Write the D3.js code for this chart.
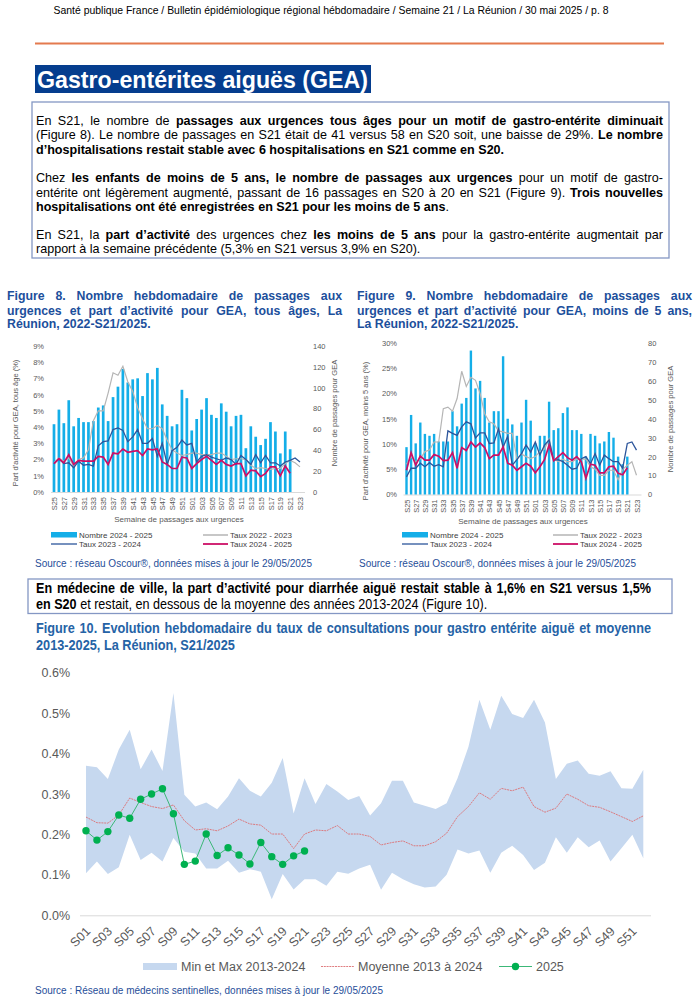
<!DOCTYPE html>
<html><head><meta charset="utf-8">
<script src="https://cdn.jsdelivr.net/npm/d3@7"></script>
<style>body{margin:0;background:#fff}svg{display:block}</style>
</head><body>
<svg id="page" width="699" height="1000"></svg>
<script>
// ---------------- DATA ----------------
const weeksED = ["S25","S26","S27","S28","S29","S30","S31","S32","S33","S34","S35","S36","S37","S38","S39","S40","S41","S42","S43","S44","S45","S46","S47","S48","S49","S50","S51","S52","S01","S02","S03","S04","S05","S06","S07","S08","S09","S10","S11","S12","S13","S14","S15","S16","S17","S18","S19","S20","S21","S22","S23"];
// Figure 8 (tous âges)
const f8Nombre2425 = [65,79,66,88,63,71,67,67,68,81,83,68,91,101,118,105,108,109,92,114,108,119,84,73,63,65,98,90,59,70,79,90,74,71,85,77,63,73,74,42,63,53,45,51,67,58,37,58,41];
const f8Taux2223 = [1.8,2.1,1.9,2.1,1.6,2.0,2.1,2.6,4.4,5.0,5.0,6.1,7.35,7.2,7.75,6.8,6.2,5.2,4.5,3.9,3.9,4.1,3.9,3.2,2.6,2.4,2.25,2.3,2.4,2.4,2.3,2.3,2.3,2.4,2.4,2.2,2.0,2.05,2.05,2.0,1.65,1.45,1.5,1.45,1.4,1.45,1.45,1.75,1.95,1.8,1.55];
const f8Taux2324 = [1.75,2.05,1.75,1.8,1.5,1.9,1.65,1.7,1.6,2.85,3.1,3.15,3.85,3.95,3.8,3.1,3.4,3.85,3.0,3.0,3.3,2.2,3.0,1.7,2.55,2.75,3.2,2.9,3.0,1.85,2.2,2.3,2.15,2.05,1.95,2.1,2.0,1.7,2.25,2.0,1.7,2.3,1.8,2.25,1.8,1.8,1.6,1.85,1.95,2.1,1.85];
const f8Taux2425 = [1.75,2.05,1.8,2.3,1.7,1.95,1.9,1.9,1.9,2.2,2.15,1.7,2.4,2.35,2.65,2.45,2.5,2.55,2.25,2.65,2.6,2.65,1.85,1.7,1.45,1.45,2.15,2.1,1.45,1.75,2.0,2.2,1.95,1.7,1.95,1.7,1.6,1.75,1.75,1.0,1.35,1.3,0.95,1.15,1.55,1.55,1.0,1.6,1.15];
const f8LeftTicks = [0,1,2,3,4,5,6,7,8,9];
const f8RightTicks = [0,20,40,60,80,100,120,140];
// Figure 9 (moins de 5 ans)
const f9Nombre2425 = [25,42,27,38,32,31,32,28,28,28,44,36,48,51,76,56,60,51,38,44,44,73,40,37,31,38,50,39,27,31,31,49,34,35,43,46,34,34,32,20,32,31,27,28,33,30,20,16,20];
const f9Taux2223 = [6.0,7.5,6.5,7.0,8.5,8.8,10.4,10.4,17.0,17.3,16.5,19.0,24.4,21.4,23.2,22.6,20.0,16.0,14.4,14.0,12.6,12.4,12.1,12.1,7.1,8.0,7.5,7.1,7.5,8.5,9.0,11.0,7.0,6.5,7.0,6.5,6.5,7.0,7.0,7.0,5.5,5.0,3.8,3.8,4.8,4.8,2.9,5.0,5.8,6.5,3.8];
const f9Taux2324 = [3.5,5.2,5.2,6.2,5.5,6.3,5.6,5.9,5.5,12.6,12.1,11.7,13.4,14.4,14.0,11.2,12.2,12.2,10.1,10.2,13.0,9.4,11.5,5.8,6.9,8.1,9.8,8.4,10.4,7.8,9.8,10.8,6.8,6.9,6.5,5.8,5.0,5.2,7.1,7.5,6.1,8.1,5.8,7.8,7.1,6.5,6.5,5.2,10.1,10.4,8.8];
const f9Taux2425 = [4.8,8.3,5.8,7.6,6.8,6.8,7.9,7.6,6.7,6.8,8.3,5.2,9.3,8.7,10.4,9.4,10.2,9.3,7.1,7.8,7.8,9.4,6.2,5.8,4.8,5.5,6.2,5.6,4.3,5.5,6.9,9.8,6.7,7.5,8.3,7.3,6.8,7.5,6.5,3.2,6.0,5.8,4.3,4.3,5.5,5.6,4.2,3.9,5.3];
const f9LeftTicks = [0,5,10,15,20,25,30];
const f9RightTicks = [0,10,20,30,40,50,60,70,80];
// Figure 10 (médecins sentinelles)
const weeks10 = ["S01","S02","S03","S04","S05","S06","S07","S08","S09","S10","S11","S12","S13","S14","S15","S16","S17","S18","S19","S20","S21","S22","S23","S24","S25","S26","S27","S28","S29","S30","S31","S32","S33","S34","S35","S36","S37","S38","S39","S40","S41","S42","S43","S44","S45","S46","S47","S48","S49","S50","S51","S52"];
const f10Max = [0.37,0.366,0.337,0.41,0.459,0.361,0.41,0.357,0.55,0.298,0.269,0.279,0.262,0.294,0.339,0.308,0.294,0.328,0.389,0.252,0.339,0.275,0.325,0.306,0.285,0.295,0.247,0.277,0.333,0.333,0.279,0.271,0.263,0.277,0.339,0.417,0.533,0.459,0.543,0.498,0.488,0.533,0.477,0.337,0.375,0.383,0.35,0.345,0.356,0.314,0.313,0.36];
const f10Min = [0.104,0.133,0.102,0.119,0.199,0.137,0.155,0.133,0.191,0.157,0.153,0.116,0.116,0.135,0.105,0.114,0.108,0.04,0.102,0.064,0.089,0.089,0.073,0.108,0.103,0.116,0.125,0.063,0.105,0.089,0.077,0.069,0.071,0.1,0.163,0.153,0.16,0.105,0.155,0.172,0.149,0.112,0.13,0.193,0.155,0.193,0.168,0.185,0.133,0.166,0.199,0.141];
const f10Moyenne = [0.243,0.229,0.228,0.248,0.29,0.279,0.269,0.264,0.273,0.234,0.211,0.214,0.209,0.221,0.238,0.226,0.223,0.201,0.201,0.165,0.201,0.211,0.209,0.222,0.201,0.201,0.195,0.174,0.18,0.184,0.172,0.172,0.182,0.203,0.244,0.269,0.303,0.287,0.314,0.308,0.317,0.269,0.255,0.265,0.3,0.287,0.271,0.267,0.256,0.244,0.232,0.246];
const f10Y2025 = [0.209,0.186,0.207,0.248,0.24,0.287,0.3,0.313,0.251,0.126,0.134,0.201,0.148,0.167,0.149,0.127,0.18,0.145,0.126,0.147,0.159];
const f10YTicks = [0,0.1,0.2,0.3,0.4,0.5,0.6];
const f10XTicks = ["S01","S03","S05","S07","S09","S11","S13","S15","S17","S19","S21","S23","S25","S27","S29","S31","S33","S35","S37","S39","S41","S43","S45","S47","S49","S51"];

// ---------------- STYLE ----------------
const SANS = "'Liberation Sans',Arial,Helvetica,sans-serif";
const C_BAR = "#14aee8", C_GRAY = "#b5b5b5", C_BLUE = "#2c559b", C_MAG = "#cc0f66";
const C_AREA = "#c6d8ef", C_MEAN = "#dd6f73", C_GREEN = "#00b050", C_GLINE = "#3cb878";
const C_TITLE = "#1c4f9c", C_SRC = "#1f4e99", C_AX = "#595959";

const svg = d3.select('#page');

function measure(weight, size, str){
  const t = svg.append('text').style('font-family',SANS).style('font-weight',weight).style('font-size',size+'px').text(str);
  const w = t.node().getComputedTextLength(); t.remove(); return w;
}

// one line of (possibly mixed bold) text; each word is its own <text>, horizontally scaled by o.sq (narrow look)
// o.width = justify to that width; o.fit = force the whole line to that width
function textLine(g, x, y, segs, o){
  const sq = o.sq || 1;
  if (o.fit){
    g.append('text').attr('x',x).attr('y',y).attr('fill',o.color||'#000')
      .style('font-family',SANS).style('font-size',o.size+'px').style('font-weight', segs[0][1]?'bold':'normal')
      .attr('textLength', o.fit).attr('lengthAdjust','spacingAndGlyphs')
      .text(segs.map(s=>s[0]).join(''));
    return;
  }
  const toks = [];
  let prevEndsSpace = true;
  segs.forEach(s => {
    s[0].split(' ').forEach((p, j) => {
      if (!p.length) return;
      toks.push({t:p, b:s[1], glue:(j===0 && !prevEndsSpace && toks.length>0)});
    });
    prevEndsSpace = s[0].endsWith(' ');
  });
  toks.forEach(w => w.w = measure(w.b ? 'bold':'normal', o.size, w.t)*sq);
  const nGaps = toks.filter((w,i)=>i>0 && !w.glue).length;
  const sum = d3.sum(toks, w=>w.w);
  let gap = 0.278*o.size*sq, k = 1;
  if (o.width && nGaps>0){
    gap = (o.width - sum)/nGaps;
    if (gap < o.size*0.16){ gap = o.size*0.16; k = (o.width - gap*nGaps)/sum; }
  }
  let cx = x;
  toks.forEach((w,i) => {
    if (i>0 && !w.glue) cx += gap;
    g.append('text').attr('transform',`translate(${cx},${y}) scale(${sq*k},1)`).attr('fill',o.color||'#000')
      .style('font-family',SANS).style('font-size',o.size+'px').style('font-weight', w.b?'bold':'normal').text(w.t);
    cx += w.w*k;
  });
}

// ---------------- PAGE TEXT ----------------
const pg = svg.append('g');
textLine(pg, 53.5, 14, [["Santé publique France / Bulletin épidémiologique régional hébdomadaire / Semaine 21 / La Réunion / 30 mai 2025 / p. 8",false]], {size:11,fit:555});
pg.append('line').attr('x1',35).attr('x2',664).attr('y1',43.5).attr('y2',43.5).attr('stroke','#e47a4e').attr('stroke-width',2);
pg.append('rect').attr('x',35).attr('y',65).attr('width',336).attr('height',28).attr('fill','#053d8e');
textLine(pg, 37, 88, [["Gastro-entérites aiguës (GEA)",true]], {size:24,color:'#fff',fit:331});

// text box
pg.append('rect').attr('x',32).attr('y',102).attr('width',637).attr('height',156).attr('fill','none').attr('stroke','#8497c4').attr('stroke-width',1.3);
const TB = {size:12.9, sq:0.975};
const tbW = 627;
textLine(pg,36,124.5,[["En S21, le nombre de ",false],["passages aux urgences tous âges pour un motif de gastro-entérite diminuait",true]],{...TB,width:tbW});
textLine(pg,36,139,[["(Figure 8). Le nombre de passages en S21 était de 41 versus 58 en S20 soit, une baisse de 29%. ",false],["Le nombre",true]],{...TB,width:tbW});
textLine(pg,36,153.5,[["d’hospitalisations restait stable avec 6 hospitalisations en S21 comme en S20.",true]],TB);
textLine(pg,36,182,[["Chez ",false],["les enfants de moins de 5 ans, le nombre de passages aux urgences",true],[" pour un motif de gastro-",false]],{...TB,width:tbW});
textLine(pg,36,196.5,[["entérite ont légèrement augmenté, passant de 16 passages en S20 à 20 en S21 (Figure 9). ",false],["Trois nouvelles",true]],{...TB,width:tbW});
textLine(pg,36,211,[["hospitalisations ont été enregistrées en S21 pour les moins de 5 ans",true],[".",false]],TB);
textLine(pg,36,238.5,[["En S21, la ",false],["part d’activité",true],[" des urgences chez ",false],["les moins de 5 ans",true],[" pour la gastro-entérite augmentait par",false]],{...TB,width:tbW});
textLine(pg,36,253,[["rapport à la semaine précédente (5,3% en S21 versus 3,9% en S20).",false]],TB);

// figure titles 8 & 9
const FT = {size:12.3,color:C_TITLE};
textLine(pg,7,299.5,[["Figure 8. Nombre hebdomadaire de passages aux",true]],{...FT,width:335});
textLine(pg,7,314.5,[["urgences et part d’activité pour GEA, tous âges, La",true]],{...FT,width:335});
textLine(pg,7,328,[["Réunion, 2022-S21/2025.",true]],FT);
textLine(pg,357,299.5,[["Figure 9. Nombre hebdomadaire de passages aux",true]],{...FT,width:335});
textLine(pg,357,314.5,[["urgences et part d’activité pour GEA, moins de 5 ans,",true]],{...FT,width:335});
textLine(pg,357,328,[["La Réunion, 2022-S21/2025.",true]],FT);

// ---------------- ED CHARTS ----------------
function edChart(c){
  const g = svg.append('g');
  const x = d3.scalePoint().domain(weeksED).range([c.x0,c.x1]);
  const yL = d3.scaleLinear().domain([0,c.lMax]).range([c.yb,c.yt]);
  const yR = d3.scaleLinear().domain([0,c.rMax]).range([c.yb,c.yt]);
  g.append('line').attr('x1',c.x0-3).attr('x2',c.x1+5).attr('y1',c.yb+0.5).attr('y2',c.yb+0.5).attr('stroke','#d9d9d9');
  g.append('g').selectAll('rect').data(c.bars).join('rect')
    .attr('x',(d,i)=>x(weeksED[i])-c.bw/2).attr('y',d=>yR(d))
    .attr('width',c.bw).attr('height',d=>c.yb-yR(d)).attr('fill',C_BAR);
  const line = d3.line().x((d,i)=>x(weeksED[i])).y(d=>yL(d));
  g.append('path').datum(c.gray).attr('d',line).attr('fill','none').attr('stroke',C_GRAY).attr('stroke-width',1.2);
  g.append('path').datum(c.blue).attr('d',line).attr('fill','none').attr('stroke',C_BLUE).attr('stroke-width',1.3);
  g.append('path').datum(c.mag).attr('d',line).attr('fill','none').attr('stroke',C_MAG).attr('stroke-width',1.7);
  const styleAx = a => { a.select('.domain').remove(); a.selectAll('text').attr('fill',C_AX).style('font-size','7.5px').style('font-family',SANS); };
  g.append('g').attr('transform',`translate(${c.lx},0)`)
    .call(d3.axisLeft(yL).tickValues(c.lTicks).tickFormat(d=>d+'%').tickSize(0).tickPadding(0)).call(styleAx);
  g.append('g').attr('transform',`translate(${c.rx},0)`)
    .call(d3.axisRight(yR).tickValues(c.rTicks).tickSize(0).tickPadding(0)).call(styleAx);
  const xa = g.append('g').attr('transform',`translate(0,${c.yb})`)
    .call(d3.axisBottom(x).tickValues(weeksED.filter((d,i)=>i%2===0)).tickSize(0).tickPadding(0)).call(styleAx);
  xa.selectAll('text').attr('transform','rotate(-90)').attr('x',-c.xlOff).attr('y',0).attr('dy','0.35em').style('text-anchor','end');
  g.append('text').attr('transform',`translate(${c.ltx},${c.lty}) rotate(-90)`).attr('text-anchor','middle')
    .attr('fill',C_AX).style('font-family',SANS).style('font-size','7.5px').text(c.lTitle);
  g.append('text').attr('transform',`translate(${c.rtx},${c.rty}) rotate(-90)`).attr('text-anchor','middle')
    .attr('fill',C_AX).style('font-family',SANS).style('font-size','7.5px').text("Nombre de passages pour GEA");
  g.append('text').attr('x',c.xtx).attr('y',c.xty).attr('text-anchor','middle')
    .attr('fill',C_AX).style('font-family',SANS).style('font-size','8px').text("Semaine de passages aux urgences");
  const L = c.leg, fs = '8px';
  g.append('rect').attr('x',L.x1).attr('y',L.y1-3).attr('width',26).attr('height',5.5).attr('fill',C_BAR);
  g.append('text').attr('x',L.x1+28).attr('y',L.y1+2.8).attr('fill','#404040').style('font-family',SANS).style('font-size',fs).text("Nombre 2024 - 2025");
  g.append('line').attr('x1',L.x2).attr('x2',L.x2+25).attr('y1',L.y1).attr('y2',L.y1).attr('stroke',C_GRAY).attr('stroke-width',1.5);
  g.append('text').attr('x',L.x2+27).attr('y',L.y1+2.8).attr('fill','#404040').style('font-family',SANS).style('font-size',fs).text("Taux 2022 - 2023");
  g.append('line').attr('x1',L.x1).attr('x2',L.x1+26).attr('y1',L.y2).attr('y2',L.y2).attr('stroke',C_BLUE).attr('stroke-width',1.3);
  g.append('text').attr('x',L.x1+28).attr('y',L.y2+2.8).attr('fill','#404040').style('font-family',SANS).style('font-size',fs).text("Taux 2023 - 2024");
  g.append('line').attr('x1',L.x2).attr('x2',L.x2+25).attr('y1',L.y2).attr('y2',L.y2).attr('stroke',C_MAG).attr('stroke-width',1.8);
  g.append('text').attr('x',L.x2+27).attr('y',L.y2+2.8).attr('fill','#404040').style('font-family',SANS).style('font-size',fs).text("Taux 2024 - 2025");
  g.append('text').attr('x',c.srcx).attr('y',567).attr('fill',C_SRC).style('font-family',SANS).style('font-size','10px')
    .text("Source : réseau Oscour®, données mises à jour le 29/05/2025");
}

edChart({x0:54,x1:300,yb:492,yt:346,lMax:9,rMax:140,lTicks:f8LeftTicks,rTicks:f8RightTicks,bw:2.7,
  bars:f8Nombre2425,gray:f8Taux2223,blue:f8Taux2324,mag:f8Taux2425,lx:44,rx:313,xlOff:5,
  ltx:18,lty:423,rtx:337,rty:413,lTitle:"Part d’activité pour GEA, tous âge (%)",xtx:179,xty:522,
  leg:{x1:51,x2:203,y1:535,y2:544},srcx:35});
edChart({x0:406.5,x1:636.5,yb:494.5,yt:343,lMax:30,rMax:80,lTicks:f9LeftTicks,rTicks:f9RightTicks,bw:2.4,
  bars:f9Nombre2425,gray:f9Taux2223,blue:f9Taux2324,mag:f9Taux2425,lx:397,rx:648,xlOff:5,
  ltx:368,lty:431,rtx:673,rty:419,lTitle:"Part d’activité pour GEA, moins 5 ans (%)",xtx:523,xty:524,
  leg:{x1:402,x2:553,y1:535,y2:544},srcx:359});

// médecine de ville box
pg.append('rect').attr('x',28).attr('y',579).attr('width',644).attr('height',34.5).attr('fill','none').attr('stroke','#8497c4').attr('stroke-width',1.3);
const MB = {size:14, sq:0.9};
textLine(pg,36,593,[["En médecine de ville, la part d’activité pour diarrhée aiguë restait stable à 1,6% en S21 versus 1,5%",true]],{...MB,width:615});
textLine(pg,36,609,[["en S20",true],[" et restait, en dessous de la moyenne des années 2013-2024 (Figure 10).",false]],MB);
const F10T = {size:14.8, sq:0.86, color:'#2563a6'};
textLine(pg,36,632.5,[["Figure 10. Evolution hebdomadaire du taux de consultations pour gastro entérite aiguë et moyenne",true]],{...F10T,width:615});
textLine(pg,36,649.5,[["2013-2025, La Réunion, S21/2025",true]],F10T);

// ---------------- FIGURE 10 ----------------
(function(){
  const g = svg.append('g');
  const x = d3.scalePoint().domain(weeks10).range([86,643.3]);
  const y = d3.scaleLinear().domain([0,0.6]).range([915.3,672.7]);
  const area = d3.area().x((d,i)=>x(weeks10[i])).y0((d,i)=>y(f10Min[i])).y1(d=>y(d));
  g.append('path').datum(f10Max).attr('d',area).attr('fill',C_AREA);
  g.append('line').attr('x1',80).attr('x2',651).attr('y1',915.8).attr('y2',915.8).attr('stroke','#d9d9d9').attr('stroke-width',1);
  const line = d3.line().x((d,i)=>x(weeks10[i])).y(d=>y(d));
  g.append('path').datum(f10Moyenne).attr('d',line).attr('fill','none').attr('stroke',C_MEAN).attr('stroke-width',0.9).attr('stroke-dasharray','2,0.8');
  g.append('path').datum(f10Y2025).attr('d',line).attr('fill','none').attr('stroke',C_GLINE).attr('stroke-width',1);
  g.append('g').selectAll('circle').data(f10Y2025).join('circle')
    .attr('cx',(d,i)=>x(weeks10[i])).attr('cy',d=>y(d)).attr('r',3.7).attr('fill',C_GREEN);
  const styleAx = a => { a.select('.domain').remove(); a.selectAll('text').attr('fill',C_AX).style('font-size','12.5px').style('font-family',SANS); };
  g.append('g').attr('transform','translate(70,0)')
    .call(d3.axisLeft(y).tickValues(f10YTicks).tickFormat(d=>d.toFixed(1)+'%').tickSize(0).tickPadding(0)).call(styleAx);
  const xa = g.append('g')
    .call(d3.axisBottom(x).tickValues(f10XTicks).tickSize(0).tickPadding(0)).call(styleAx);
  xa.selectAll('.tick').attr('transform', d => `translate(${x(d)+2},929)`);
  xa.selectAll('text').attr('transform','rotate(-45)').attr('x',0).attr('y',0).attr('dy','0.35em').style('text-anchor','end');
  const ly = 966.5;
  g.append('rect').attr('x',143).attr('y',ly-3.5).attr('width',34).attr('height',7).attr('fill',C_AREA);
  g.append('text').attr('x',181).attr('y',ly+4.5).attr('fill',C_AX).style('font-family',SANS).style('font-size','12.5px').text("Min et Max 2013-2024");
  g.append('line').attr('x1',321).attr('x2',354).attr('y1',ly).attr('y2',ly).attr('stroke',C_MEAN).attr('stroke-width',0.9).attr('stroke-dasharray','2,0.8');
  g.append('text').attr('x',358).attr('y',ly+4.5).attr('fill',C_AX).style('font-family',SANS).style('font-size','12.5px').text("Moyenne 2013 à 2024");
  g.append('line').attr('x1',499).attr('x2',532).attr('y1',ly).attr('y2',ly).attr('stroke',C_GLINE).attr('stroke-width',1);
  g.append('circle').attr('cx',515.5).attr('cy',ly).attr('r',3.7).attr('fill',C_GREEN);
  g.append('text').attr('x',536).attr('y',ly+4.5).attr('fill',C_AX).style('font-family',SANS).style('font-size','12.5px').text("2025");
  g.append('text').attr('x',35).attr('y',994).attr('fill',C_SRC).style('font-family',SANS).style('font-size','10px')
    .text("Source : Réseau de médecins sentinelles, données mises à jour le 29/05/2025");
})();
</script>
</body></html>
